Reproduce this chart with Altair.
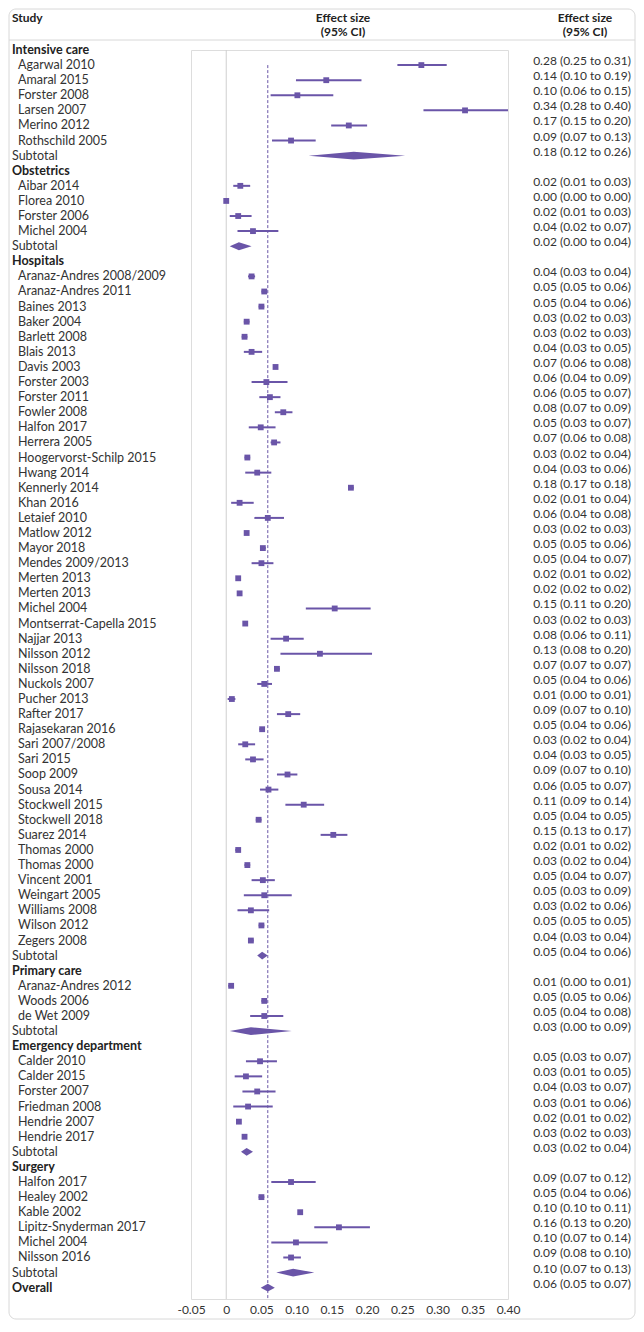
import json
import altair as alt
import pandas as pd

# ---------------- data ----------------
groups = ["Intensive care", "Obstetrics", "Hospitals", "Primary care",
          "Emergency department", "Surgery"]
group_sizes = [6, 4, 45, 3, 6, 6]

study_names = [
    "Agarwal 2010", "Amaral 2015", "Forster 2008", "Larsen 2007", "Merino 2012", "Rothschild 2005",
    "Aibar 2014", "Florea 2010", "Forster 2006", "Michel 2004",
    "Aranaz-Andres 2008/2009", "Aranaz-Andres 2011", "Baines 2013", "Baker 2004", "Barlett 2008",
    "Blais 2013", "Davis 2003", "Forster 2003", "Forster 2011", "Fowler 2008",
    "Halfon 2017", "Herrera 2005", "Hoogervorst-Schilp 2015", "Hwang 2014", "Kennerly 2014",
    "Khan 2016", "Letaief 2010", "Matlow 2012", "Mayor 2018", "Mendes 2009/2013",
    "Merten 2013", "Merten 2013", "Michel 2004", "Montserrat-Capella 2015", "Najjar 2013",
    "Nilsson 2012", "Nilsson 2018", "Nuckols 2007", "Pucher 2013", "Rafter 2017",
    "Rajasekaran 2016", "Sari 2007/2008", "Sari 2015", "Soop 2009", "Sousa 2014",
    "Stockwell 2015", "Stockwell 2018", "Suarez 2014", "Thomas 2000", "Thomas 2000",
    "Vincent 2001", "Weingart 2005", "Williams 2008", "Wilson 2012", "Zegers 2008",
    "Aranaz-Andres 2012", "Woods 2006", "de Wet 2009",
    "Calder 2010", "Calder 2015", "Forster 2007", "Friedman 2008", "Hendrie 2007", "Hendrie 2017",
    "Halfon 2017", "Healey 2002", "Kable 2002", "Lipitz-Snyderman 2017", "Michel 2004", "Nilsson 2016",
]
study_est = [
    0.277, 0.142, 0.101, 0.339, 0.174, 0.092,
    0.020, 0.000, 0.017, 0.038,
    0.036, 0.054, 0.050, 0.029, 0.026, 0.036, 0.070, 0.057, 0.062, 0.081,
    0.049, 0.068, 0.030, 0.044, 0.177, 0.019, 0.059, 0.029, 0.052, 0.050,
    0.017, 0.019, 0.154, 0.027, 0.085, 0.133, 0.072, 0.054, 0.008, 0.088,
    0.051, 0.027, 0.038, 0.087, 0.060, 0.110, 0.046, 0.152, 0.017, 0.030,
    0.052, 0.054, 0.035, 0.050, 0.035,
    0.007, 0.054, 0.054,
    0.048, 0.028, 0.044, 0.031, 0.018, 0.026,
    0.092, 0.050, 0.105, 0.160, 0.099, 0.092,
]
study_lo = [
    0.243, 0.099, 0.063, 0.280, 0.149, 0.065,
    0.010, 0.000, 0.005, 0.016,
    0.031, 0.050, 0.046, 0.025, 0.022, 0.025, 0.068, 0.036, 0.047, 0.069,
    0.032, 0.063, 0.026, 0.027, 0.173, 0.007, 0.040, 0.026, 0.048, 0.036,
    0.014, 0.016, 0.113, 0.025, 0.063, 0.077, 0.068, 0.044, 0.002, 0.072,
    0.047, 0.017, 0.027, 0.072, 0.048, 0.084, 0.042, 0.134, 0.013, 0.026,
    0.036, 0.025, 0.016, 0.046, 0.031,
    0.003, 0.050, 0.034,
    0.028, 0.012, 0.023, 0.010, 0.015, 0.023,
    0.064, 0.046, 0.102, 0.125, 0.064, 0.081,
]
study_hi = [
    0.313, 0.192, 0.152, 0.400, 0.200, 0.127,
    0.034, 0.000, 0.036, 0.074,
    0.041, 0.058, 0.054, 0.033, 0.030, 0.051, 0.072, 0.087, 0.077, 0.094,
    0.070, 0.077, 0.034, 0.064, 0.181, 0.039, 0.082, 0.032, 0.056, 0.067,
    0.021, 0.022, 0.205, 0.029, 0.110, 0.207, 0.076, 0.065, 0.013, 0.105,
    0.055, 0.041, 0.053, 0.101, 0.074, 0.139, 0.050, 0.172, 0.021, 0.034,
    0.069, 0.093, 0.061, 0.054, 0.039,
    0.011, 0.058, 0.081,
    0.072, 0.051, 0.070, 0.066, 0.021, 0.029,
    0.127, 0.054, 0.108, 0.204, 0.144, 0.106,
]
study_txt = [
    "0.28 (0.25 to 0.31)", "0.14 (0.10 to 0.19)", "0.10 (0.06 to 0.15)", "0.34 (0.28 to 0.40)",
    "0.17 (0.15 to 0.20)", "0.09 (0.07 to 0.13)",
    "0.02 (0.01 to 0.03)", "0.00 (0.00 to 0.00)", "0.02 (0.01 to 0.03)", "0.04 (0.02 to 0.07)",
    "0.04 (0.03 to 0.04)", "0.05 (0.05 to 0.06)", "0.05 (0.04 to 0.06)", "0.03 (0.02 to 0.03)",
    "0.03 (0.02 to 0.03)", "0.04 (0.03 to 0.05)", "0.07 (0.06 to 0.08)", "0.06 (0.04 to 0.09)",
    "0.06 (0.05 to 0.07)", "0.08 (0.07 to 0.09)", "0.05 (0.03 to 0.07)", "0.07 (0.06 to 0.08)",
    "0.03 (0.02 to 0.04)", "0.04 (0.03 to 0.06)", "0.18 (0.17 to 0.18)", "0.02 (0.01 to 0.04)",
    "0.06 (0.04 to 0.08)", "0.03 (0.02 to 0.03)", "0.05 (0.05 to 0.06)", "0.05 (0.04 to 0.07)",
    "0.02 (0.01 to 0.02)", "0.02 (0.02 to 0.02)", "0.15 (0.11 to 0.20)", "0.03 (0.02 to 0.03)",
    "0.08 (0.06 to 0.11)", "0.13 (0.08 to 0.20)", "0.07 (0.07 to 0.07)", "0.05 (0.04 to 0.06)",
    "0.01 (0.00 to 0.01)", "0.09 (0.07 to 0.10)", "0.05 (0.04 to 0.06)", "0.03 (0.02 to 0.04)",
    "0.04 (0.03 to 0.05)", "0.09 (0.07 to 0.10)", "0.06 (0.05 to 0.07)", "0.11 (0.09 to 0.14)",
    "0.05 (0.04 to 0.05)", "0.15 (0.13 to 0.17)", "0.02 (0.01 to 0.02)", "0.03 (0.02 to 0.04)",
    "0.05 (0.04 to 0.07)", "0.05 (0.03 to 0.09)", "0.03 (0.02 to 0.06)", "0.05 (0.05 to 0.05)",
    "0.04 (0.03 to 0.04)",
    "0.01 (0.00 to 0.01)", "0.05 (0.05 to 0.06)", "0.05 (0.04 to 0.08)",
    "0.05 (0.03 to 0.07)", "0.03 (0.01 to 0.05)", "0.04 (0.03 to 0.07)", "0.03 (0.01 to 0.06)",
    "0.02 (0.01 to 0.02)", "0.03 (0.02 to 0.03)",
    "0.09 (0.07 to 0.12)", "0.05 (0.04 to 0.06)", "0.10 (0.10 to 0.11)", "0.16 (0.13 to 0.20)",
    "0.10 (0.07 to 0.14)", "0.09 (0.08 to 0.10)",
]
sub_est = [0.181, 0.018, 0.051, 0.035, 0.029, 0.095]
sub_lo = [0.117, 0.005, 0.044, 0.005, 0.021, 0.071]
sub_hi = [0.254, 0.036, 0.059, 0.093, 0.038, 0.125]
sub_txt = ["0.18 (0.12 to 0.26)", "0.02 (0.00 to 0.04)", "0.05 (0.04 to 0.06)",
           "0.03 (0.00 to 0.09)", "0.03 (0.02 to 0.04)", "0.10 (0.07 to 0.13)"]
overall_est, overall_lo, overall_hi = 0.059, 0.049, 0.069
overall_txt = "0.06 (0.05 to 0.07)"

tick_values = [-0.05, 0, 0.05, 0.10, 0.15, 0.20, 0.25, 0.30, 0.35, 0.40]
tick_labels = ["-0.05", "0", "0.05", "0.10", "0.15", "0.20", "0.25", "0.30", "0.35", "0.40"]

# ---------------- tables ----------------
rows = []
r = 0
i = 0
for g, n, se, sl, sh, st in zip(groups, group_sizes, sub_est, sub_lo, sub_hi, sub_txt):
    rows.append(dict(r=r, label=g, kind="header"))
    r += 1
    for _ in range(n):
        rows.append(dict(r=r, label=study_names[i], kind="study", est=study_est[i],
                         lo=study_lo[i], hi=study_hi[i], txt=study_txt[i]))
        r += 1
        i += 1
    rows.append(dict(r=r, label="Subtotal", kind="subtotal", est=se, lo=sl, hi=sh, txt=st))
    r += 1
rows.append(dict(r=r, label="Overall", kind="overall", est=overall_est, lo=overall_lo,
                 hi=overall_hi, txt=overall_txt))
df = pd.DataFrame(rows)

HALF = 0.26  # diamond half height in rows
dia = []
for _, row in df[df.kind.isin(["subtotal", "overall"])].iterrows():
    dia.append(dict(g=row.r, dx=row.lo, dy=row.r, dy2=row.r))
    dia.append(dict(g=row.r, dx=row.est, dy=row.r - HALF, dy2=row.r + HALF))
    dia.append(dict(g=row.r, dx=row.hi, dy=row.r, dy2=row.r))
dia_df = pd.DataFrame(dia)

# ---------------- layout / style ----------------
PURPLE = "#6a55a8"
FONT = "Lato"
W = 317
P = 1249
YMAX = 82.75
LX_HEAD = -179
LX_STUDY = -173
RX = 440

xs = alt.Scale(domain=[-0.05, 0.40], nice=False, zero=False)
ys = alt.Scale(domain=[0, YMAX], reverse=True, nice=False, zero=False)
label_expr = json.dumps(tick_labels) + "[round((datum.value + 0.05) / 0.05)]"
xaxis = alt.Axis(values=tick_values, labelExpr=label_expr, title=None, grid=False,
                 domain=False, ticks=False, labelPadding=5, labelFontSize=12,
                 labelColor="#333333", labelFont=FONT, labelOverlap=False,
                 labelFlush=False)

base = alt.Chart(df)

border = alt.Chart(pd.DataFrame({"a": [0]})).mark_rect(
    fill="white", fillOpacity=0, stroke="#d8d8d8", strokeWidth=1, cornerRadius=7
).encode(x=alt.value(-182), x2=alt.value(444), y=alt.value(-41), y2=alt.value(P + 20))

sep = alt.Chart(pd.DataFrame({"a": [0]})).mark_rule(color="#d8d8d8", strokeWidth=1).encode(
    x=alt.value(-182), x2=alt.value(444), y=alt.value(-10))

def head(txt, x, y, align):
    return alt.Chart(pd.DataFrame({"t": [txt]})).mark_text(
        font=FONT, fontSize=12, fontWeight="bold", color="#222222", align=align,
        baseline="middle").encode(text="t:N", x=alt.value(x), y=alt.value(y))

headers = [
    head("Study", LX_HEAD, -32, "left"),
    head("Effect size", 152, -32, "center"),
    head("(95% CI)", 152, -18, "center"),
    head("Effect size", 394, -32, "center"),
    head("(95% CI)", 394, -18, "center"),
]

zero = alt.Chart(pd.DataFrame({"x": [0.0]})).mark_rule(color="#cfcfcf", strokeWidth=1).encode(
    x=alt.X("x:Q", scale=xs, axis=xaxis))

dashed = alt.Chart(pd.DataFrame({"x": [overall_est], "y": [1.0], "y2": [YMAX]})).mark_rule(
    color=PURPLE, strokeWidth=1, strokeDash=[3, 2]).encode(
    x=alt.X("x:Q", scale=xs, axis=xaxis), y=alt.Y("y:Q", scale=ys, axis=None), y2="y2:Q")

ci = base.transform_filter("datum.kind == 'study'").mark_rule(
    color=PURPLE, strokeWidth=2).encode(
    x=alt.X("lo:Q", scale=xs, axis=xaxis), x2="hi:Q", y=alt.Y("r:Q", scale=ys, axis=None))

sq = base.transform_filter("datum.kind == 'study'").mark_square(
    color=PURPLE, size=34, opacity=1).encode(
    x=alt.X("est:Q", scale=xs, axis=xaxis), y=alt.Y("r:Q", scale=ys, axis=None))

diamonds = alt.Chart(dia_df).mark_area(color=PURPLE, opacity=1, interpolate="linear").encode(
    x=alt.X("dx:Q", scale=xs, axis=xaxis), y=alt.Y("dy:Q", scale=ys, axis=None), y2="dy2:Q",
    detail="g:N")

lab_head = base.transform_filter("datum.kind == 'header' || datum.kind == 'overall'").mark_text(
    font=FONT, fontSize=12.5, fontWeight="bold", color="#222222", align="left",
    baseline="middle").encode(text="label:N", x=alt.value(LX_HEAD),
                              y=alt.Y("r:Q", scale=ys, axis=None))

lab_sub = base.transform_filter("datum.kind == 'subtotal'").mark_text(
    font=FONT, fontSize=12.5, color="#333333", align="left", baseline="middle").encode(
    text="label:N", x=alt.value(LX_HEAD), y=alt.Y("r:Q", scale=ys, axis=None))

lab_study = base.transform_filter("datum.kind == 'study'").mark_text(
    font=FONT, fontSize=12.5, color="#333333", align="left", baseline="middle").encode(
    text="label:N", x=alt.value(LX_STUDY), y=alt.Y("r:Q", scale=ys, axis=None))

vals = base.transform_filter("datum.kind != 'header'").mark_text(
    font=FONT, fontSize=12, color="#333333", align="right", baseline="middle", dy=-4).encode(
    text="txt:N", x=alt.value(RX), y=alt.Y("r:Q", scale=ys, axis=None))

chart = alt.layer(
    border, sep, *headers, zero, dashed, ci, sq, diamonds, lab_head, lab_sub, lab_study, vals
).properties(width=W, height=P, padding=0).configure_view(
    stroke="#dedede", strokeWidth=1, cornerRadius=8
).configure_axisX(labelOverlap=False).configure(font=FONT)

chart.save("out.html", embed_options={"renderer": "svg", "actions": False})
